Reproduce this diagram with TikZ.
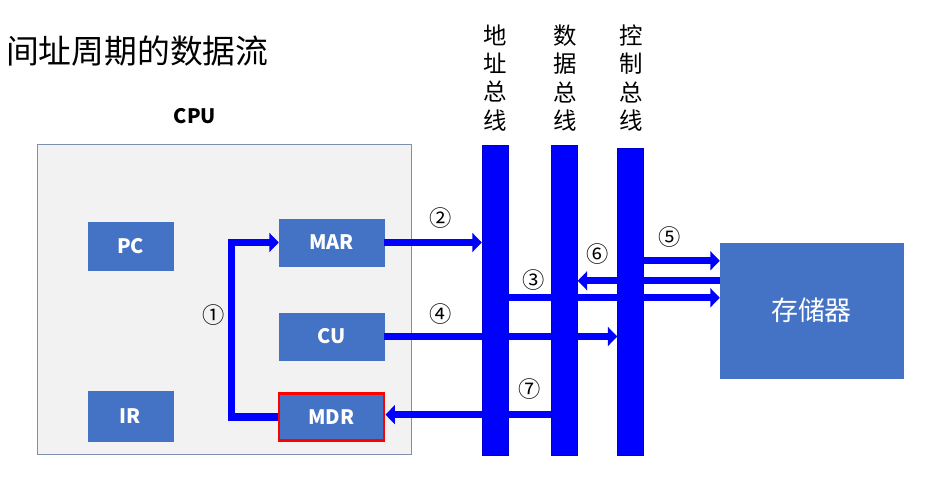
\documentclass[tikz,border=0pt]{standalone}
\usepackage{fontspec}
\setmainfont{Noto Sans CJK SC}
\usetikzlibrary{positioning,calc,arrows.meta}
\definecolor{boxblue}{RGB}{68,114,196}
\definecolor{busblue}{RGB}{0,0,255}
\definecolor{cpugray}{RGB}{242,242,242}
\definecolor{cpuedge}{RGB}{125,145,175}

\begin{document}
\begin{tikzpicture}[x=0.03cm, y=-0.03cm, on grid,
  reg/.style={rectangle, fill=boxblue, draw=boxblue, text=white,
    font=\fontsize{17}{20}\selectfont\bfseries,
    minimum width=3.15cm, minimum height=1.41cm, inner sep=0pt},
  bus/.style={rectangle, fill=busblue, draw=busblue!80!black, line width=0.4pt,
    minimum width=0.78cm, minimum height=9.3cm, inner sep=0pt},
  buslabel/.style={align=center, font=\fontsize{20}{24}\selectfont},
  num/.style={font=\fontsize{19}{20}\selectfont, inner sep=0pt},
  flow/.style={busblue, line width=6pt,
    -{Triangle[length=8pt, width=16pt]}}]
\useasboundingbox (0,0) rectangle (937,485);

% title and cpu
\node[anchor=west, font=\fontsize{28}{32}\selectfont] (title) at (2,51) {间址周期的数据流};
\node[font=\fontsize{17}{20}\selectfont\bfseries] (cpulabel) at (195,116) {CPU};
\node[rectangle, fill=cpugray, draw=cpuedge, line width=0.8pt,
  minimum width=11.22cm, minimum height=9.3cm, inner sep=0pt] (cpu) at (224,299) {};

% registers
\node[reg] (mar) at (331.5,242.5) {MAR};
\node[reg] (cu) [below=2.82cm of mar] {CU};
\node[reg, draw=red, line width=2.5pt] (mdr) [below=2.415cm of cu] {MDR};
\node[reg, minimum width=2.55cm, minimum height=1.44cm] (pc) at (130.5,246) {PC};
\node[reg, minimum width=2.55cm, minimum height=1.5cm] (ir) at (130.5,416) {IR};

% buses
\node[bus] (abus) at (495,300) {};
\node[bus] (dbus) at (564.5,300) {};
\node[bus, minimum height=9.21cm] (cbus) at (630.5,301.5) {};
\node[buslabel] (alabel) at (495,78) {地\\址\\总\\线};
\node[buslabel] (dlabel) at (565,78) {数\\据\\总\\线};
\node[buslabel] (clabel) at (631,78) {控\\制\\总\\线};

% memory
\node[reg, minimum width=5.49cm, minimum height=4.05cm,
  font=\fontsize{23}{26}\selectfont] (mem) at (811.5,310.5) {存储器};
\coordinate (p5) at ($(mem.north west)+(0,18)$);
\coordinate (p6) at ($(mem.north west)+(0,38)$);
\coordinate (p3) at ($(mem.north west)+(0,55)$);

% data flow
\draw[flow] (mdr.west) -- ++(-46,0) |- (mar.west);
\draw[flow] (mar.east) -- (abus.west |- mar.east);
\draw[flow] (abus.east |- p3) -- (p3);
\draw[flow] (cu.east) -- (cbus.west |- cu.east);
\draw[flow] (cbus.east |- p5) -- (p5);
\draw[flow] (p6) -- (dbus.east |- p6);
\draw[flow] ([yshift=2pt]dbus.west |- mdr.east) -- ([yshift=2pt]mdr.east);

\node[num] (n1) at (214,315) {①};
\node[num] (n2) at (441,218) {②};
\node[num] (n3) at (534,280) {③};
\node[num] (n4) at (441,314) {④};
\node[num] (n5) at (670,237) {⑤};
\node[num] (n6) at (598,254) {⑥};
\node[num] (n7) at (530,389) {⑦};
\end{tikzpicture}
\end{document}
